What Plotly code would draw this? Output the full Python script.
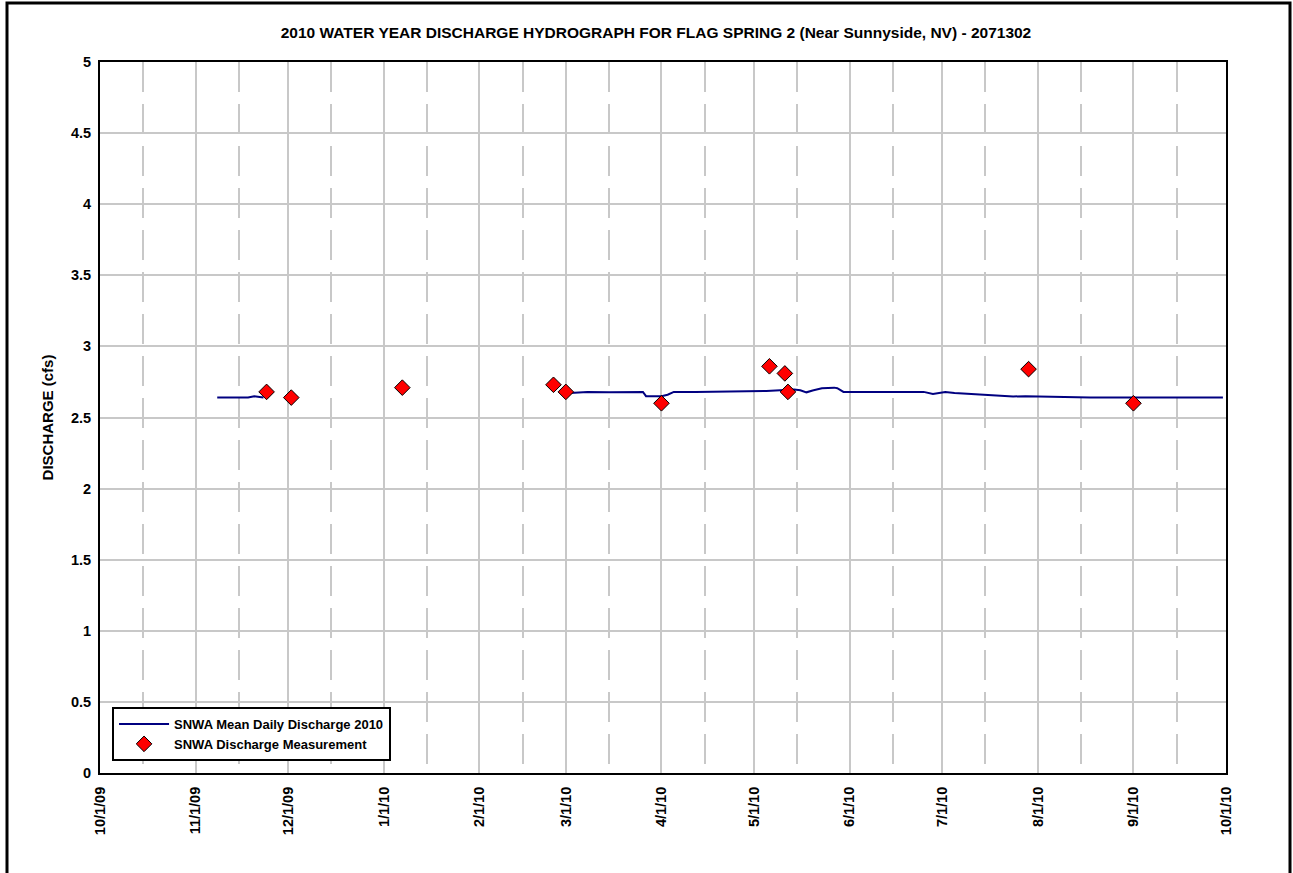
import plotly.graph_objects as go

# Mean daily discharge (cfs); None marks the gap in the record
flow_dates = [
    "2009-11-08", "2009-11-12", "2009-11-18", "2009-11-20", "2009-11-22", "2009-11-23",
    "2009-12-01",
    "2010-03-01", "2010-03-04", "2010-03-08", "2010-03-15", "2010-03-20", "2010-03-26",
    "2010-03-27", "2010-03-30", "2010-04-01", "2010-04-03", "2010-04-05", "2010-04-12",
    "2010-04-20", "2010-04-25", "2010-05-01", "2010-05-05", "2010-05-08", "2010-05-11",
    "2010-05-14", "2010-05-16", "2010-05-18", "2010-05-20", "2010-05-23", "2010-05-27",
    "2010-05-28", "2010-05-30", "2010-06-10", "2010-06-25", "2010-06-28", "2010-06-30",
    "2010-07-02", "2010-07-05", "2010-07-12", "2010-07-17", "2010-07-24", "2010-07-28",
    "2010-08-02", "2010-08-07", "2010-08-12", "2010-08-18", "2010-09-10", "2010-09-30",
]
flow_cfs = [
    2.64, 2.64, 2.64, 2.65, 2.645, 2.64,
    None,
    2.67, 2.675, 2.68, 2.678, 2.68, 2.68,
    2.65, 2.647, 2.65, 2.66, 2.68, 2.68,
    2.681, 2.683, 2.684, 2.686, 2.69, 2.692,
    2.697, 2.692, 2.677, 2.69, 2.705, 2.71,
    2.706, 2.68, 2.68, 2.68, 2.665, 2.67,
    2.68, 2.673, 2.665, 2.66, 2.648, 2.65,
    2.648, 2.645, 2.647, 2.64, 2.64, 2.64,
]

# Field discharge measurements (cfs)
meas_dates = [
    "2009-11-24", "2009-12-02", "2010-01-07", "2010-02-25", "2010-03-01", "2010-04-01",
    "2010-05-06", "2010-05-11", "2010-05-12", "2010-07-29", "2010-09-01",
]
meas_cfs = [2.68, 2.64, 2.71, 2.73, 2.68, 2.60, 2.86, 2.81, 2.68, 2.84, 2.60]

FONT = "Arial, Liberation Sans, sans-serif"

fig = go.Figure()
fig.add_trace(go.Scatter(
    x=flow_dates, y=flow_cfs, mode="lines", connectgaps=False,
    name="SNWA Mean Daily Discharge 2010",
    line=dict(color="#000080", width=2),
))
fig.add_trace(go.Scatter(
    x=meas_dates, y=meas_cfs, mode="markers",
    name="SNWA Discharge Measurement",
    marker=dict(symbol="diamond", size=12, color="#FF0000",
                line=dict(color="#000000", width=1)),
))

fig.update_layout(
    width=1293, height=873,
    margin=dict(l=100, r=67, t=62, b=100),
    paper_bgcolor="white", plot_bgcolor="white",
    font=dict(family=FONT, color="black"),
    title=dict(
        text="<b>2010 WATER YEAR DISCHARGE HYDROGRAPH FOR FLAG SPRING 2 (Near Sunnyside, NV) - 2071302</b>",
        x=656 / 1293, xanchor="center", y=1 - 33 / 873, yanchor="middle",
        font=dict(size=15.5, family=FONT, color="black"),
    ),
    showlegend=True,
    legend=dict(
        x=0.0107, y=0.0928, xanchor="left", yanchor="top",
        bgcolor="white", bordercolor="black", borderwidth=2,
        font=dict(size=13, family=FONT, color="black", weight="bold"),
        itemwidth=50, tracegroupgap=0,
    ),
    xaxis=dict(
        type="date",
        range=["2009-10-01", "2010-10-01"],
        tick0="2009-10-01", dtick="M1",
        tickformat="%-m/%-d/%y", tickangle=-90,
        tickfont=dict(size=14.5, family=FONT, color="black", weight="bold"),
        ticklabelstandoff=6,
        showgrid=True, gridcolor="#C8C8C8", gridwidth=2,
        showline=True, mirror=True, linecolor="black", linewidth=2,
        ticks="", zeroline=False,
        minor=dict(tick0="2009-10-15", dtick="M1", showgrid=True,
                   gridcolor="#C8C8C8", gridwidth=1.5, griddash="30px,12px"),
    ),
    yaxis=dict(
        range=[0, 5], dtick=0.5, tick0=0,
        title=dict(text="<b>DISCHARGE (cfs)</b>", standoff=14,
                   font=dict(size=15, family=FONT, color="black")),
        tickfont=dict(size=14.5, family=FONT, color="black", weight="bold"),
        ticklabelstandoff=4,
        showgrid=True, gridcolor="#C8C8C8", gridwidth=2,
        showline=True, mirror=True, linecolor="black", linewidth=2,
        ticks="", zeroline=False,
    ),
)

# Outer frame around the whole figure
fig.add_shape(
    type="rect", xref="paper", yref="paper",
    x0=(7 - 100) / 1126, x1=(1290 - 100) / 1126,
    y0=-0.2, y1=(773 - 3) / 711,
    line=dict(color="black", width=3), fillcolor="rgba(0,0,0,0)",
    layer="above",
)

fig.write_html("out.html")
